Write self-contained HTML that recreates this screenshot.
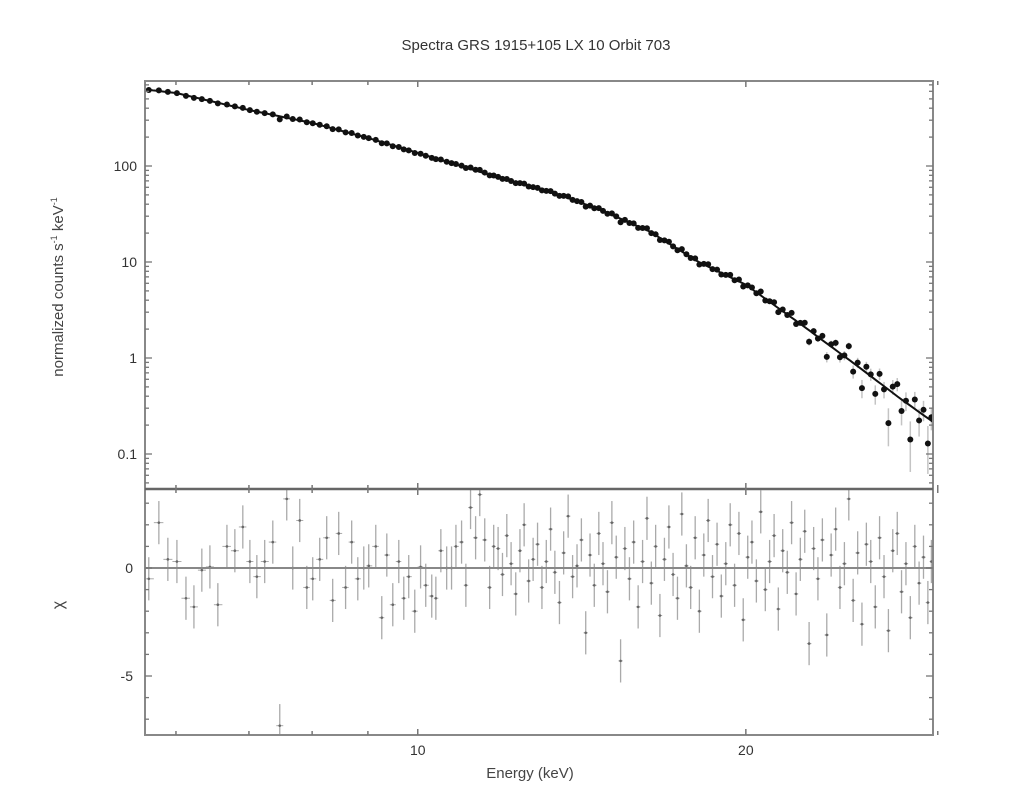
<!DOCTYPE html>
<html><head><meta charset="utf-8">
<style>
html,body{margin:0;padding:0;background:#fff;}
svg{display:block;font-family:"Liberation Sans",sans-serif;}
</style></head>
<body>
<svg id="chart" width="1023" height="786" viewBox="0 0 1023 786" xmlns="http://www.w3.org/2000/svg">
<rect x="0" y="0" width="1023" height="786" fill="#fff"/>
<text x="536" y="50" font-size="15" text-anchor="middle" fill="#333">Spectra GRS 1915+105 LX 10 Orbit 703</text>
<text transform="translate(63,287) rotate(-90)" font-size="15" text-anchor="middle" fill="#444">normalized counts s<tspan font-size="9" dy="-6">-1</tspan><tspan dy="6"> keV</tspan><tspan font-size="9" dy="-6">-1</tspan></text>
<text transform="translate(63,605) rotate(-90)" font-size="16" text-anchor="middle" fill="#444">χ</text>
<text x="530" y="778" font-size="15" text-anchor="middle" fill="#444">Energy (keV)</text>
<g id="g-top"></g>
<g id="g-bot"></g>
<g id="g-axes"></g>
</svg>
<script>
// ---- data ----
const modelEnergy = [5.6, 6, 7, 8, 9, 10, 11.9, 13.5, 14.7, 16.3, 18.1, 20, 22.4, 24.9, 27.7, 29.8];
const modelCounts = [630, 576, 383, 281, 196, 137, 75, 50, 35, 21, 10, 5.8, 2.3, 0.95, 0.38, 0.21];
const relErrEnergy = [5.6, 10, 15, 20, 23, 26, 29.8];
const relErrValue = [0.008, 0.012, 0.018, 0.03, 0.07, 0.15, 0.3];
const energies = [5.665,5.787,5.898,6.012,6.128,6.232,6.337,6.446,6.555,6.682,6.795,6.910,7.014,7.118,7.237,7.362,7.471,7.582,7.679,7.793,7.910,8.010,8.129,8.250,8.355,8.462,8.586,8.697,8.810,8.922,9.016,9.151,9.268,9.367,9.486,9.607,9.709,9.811,9.937,10.06,10.17,10.30,10.39,10.50,10.63,10.74,10.84,10.97,11.07,11.18,11.30,11.40,11.52,11.64,11.74,
11.85,11.96,12.07,12.18,12.30,12.41,12.52,12.64,12.76,12.88,13.00,13.12,13.24,13.36,13.49,13.61,13.74,13.87,14.00,14.13,14.26,14.39,14.52,14.66,14.79,14.93,15.07,15.21,15.35,15.49,15.64,15.78,15.93,16.08,16.23,16.38,16.53,16.68,16.84,17.00,17.15,17.31,17.47,17.64,17.80,17.97,18.13,18.30,18.47,18.64,18.82,18.99,19.17,19.35,19.53,19.71,19.89,20.08,20.26,20.45,20.64,20.84,21.03,21.23,21.42,21.62,21.83,22.03,22.24,22.44,22.65,22.86,23.08,23.29,23.51,23.73,23.95,24.18,24.40,24.63,24.86,25.09,25.33,25.56,25.80,26.04,26.29,26.53,26.78,27.03,27.28,27.54,27.79,28.05,28.31,28.58,28.84,29.11,29.38,29.60];
const residuals = [-0.5,2.1,0.4,0.3,-1.4,-1.8,-0.1,0.05,-1.7,1.0,0.8,1.9,0.3,-0.4,0.3,1.2,-7.3,3.2,0,2.2,-0.9,-0.5,0.4,1.4,-1.5,1.6,-0.9,1.2,-0.5,0,0.1,1.0,-2.3,0.6,-1.7,0.3,-1.4,-0.4,-2.0,0.05,-0.8,-1.3,-1.4,0.8,0,0,1.0,1.2,-0.8,2.8,1.4,3.4,1.3,-0.9,1.0,
0.9,-0.3,1.5,0.2,-1.2,0.8,2.0,-0.6,0.4,1.1,-0.9,0.3,1.8,-0.2,-1.6,0.7,2.4,-0.4,0.1,1.3,-3.0,0.6,-0.8,1.6,0.2,-1.1,2.1,0.5,-4.3,0.9,-0.5,1.2,-1.8,0.3,2.3,-0.7,1.0,-2.2,0.4,1.9,-0.3,-1.4,2.5,0.1,-0.9,1.4,-2.0,0.6,2.2,-0.4,1.1,-1.3,0.2,2.0,-0.8,1.6,-2.4,0.5,1.2,-0.6,2.6,-1.0,0.3,1.5,-1.9,0.8,-0.2,2.1,-1.2,0.4,1.7,-3.5,0.9,-0.5,1.3,-3.1,0.6,1.8,-0.9,0.2,3.2,-1.5,0.7,-2.6,1.1,0.3,-1.8,1.4,-0.4,-2.9,0.8,1.6,-1.1,0.2,-2.3,1.0,-0.7,0.5,-1.6,0.3];
const xTickValues = [6,7,8,9,10,20,30];
const xTickLabels = ["","","","","10","20",""];
const yTickValues = [100,10,1,0.1];
const yTickLabels = ["100","10","1","0.1"];
const rTickValues = [0,-5];
const rTickLabels = ["0","-5"];

// ---- geometry ----
const L=145,R=933,T=81,MID=489,B=735;
const xMinLog=Math.log10(5.62), xMaxLog=Math.log10(29.7);
function xs(e){return L+(Math.log10(e)-xMinLog)/(xMaxLog-xMinLog)*(R-L);}
function ys(v){return 166-(Math.log10(v)-2)*96;}
function yr(v){return 568-v*21.6;}
function interpLog(xa,ya,e){
  const le=Math.log10(e);
  for(let i=0;i<xa.length-1;i++){
    const a=Math.log10(xa[i]),b=Math.log10(xa[i+1]);
    if(le<=b||i===xa.length-2){const t=(le-a)/(b-a);return Math.pow(10,Math.log10(ya[i])+t*(Math.log10(ya[i+1])-Math.log10(ya[i])));}
  }
}
function interpLin(xa,ya,e){
  for(let i=0;i<xa.length-1;i++){
    if(e<=xa[i+1]||i===xa.length-2){const t=(e-xa[i])/(xa[i+1]-xa[i]);return ya[i]+t*(ya[i+1]-ya[i]);}
  }
}
const NS="http://www.w3.org/2000/svg";
function mk(tag,attrs,parent){const el=document.createElementNS(NS,tag);for(const k in attrs)el.setAttribute(k,attrs[k]);parent.appendChild(el);return el;}
const gTop=document.getElementById('g-top'),gBot=document.getElementById('g-bot'),gAx=document.getElementById('g-axes');

const defs=mk('defs',{},document.getElementById('chart'));
const c1=mk('clipPath',{id:'clipTop'},defs);mk('rect',{x:L,y:T,width:R-L,height:MID-T},c1);
const c2=mk('clipPath',{id:'clipBot'},defs);mk('rect',{x:L,y:MID,width:R-L,height:B-MID},c2);
gTop.setAttribute('clip-path','url(#clipTop)');
gBot.setAttribute('clip-path','url(#clipBot)');

const n=Math.min(energies.length,residuals.length);
for(let i=0;i<n;i++){
  const e=energies[i];
  const m=interpLog(modelEnergy,modelCounts,e);
  const rel=interpLin(relErrEnergy,relErrValue,e);
  const sig=m*rel;
  const val=Math.max(m+residuals[i]*sig,m*0.05);
  const x=xs(e);
  const eLo=i>0?(energies[i-1]+e)/2:e-0.05, eHi=i<n-1?(energies[i+1]+e)/2:e+0.05;
  const ylo=ys(Math.max(val-sig,1e-3)), yhi=ys(val+sig);
  const eb=mk('line',{x1:x,x2:x,y1:yhi,y2:ylo,stroke:'#c4c4c4','stroke-width':1.5},gTop);
  
  
  const pt=mk('circle',{cx:x,cy:ys(val),r:3,fill:'#111'},gTop);
  
  
  const rb=mk('line',{x1:x,x2:x,y1:yr(residuals[i]+1),y2:yr(residuals[i]-1),stroke:'#aaa','stroke-width':1.3},gBot);
  
  
  const rh=mk('line',{x1:xs(eLo),x2:xs(eHi),y1:yr(residuals[i]),y2:yr(residuals[i]),stroke:'#aaa','stroke-width':1},gBot);
  
  
  const rp=mk('circle',{cx:x,cy:yr(residuals[i]),r:1.3,fill:'#666'},gBot);
  
  
}
let d='';
for(let k=0;k<=200;k++){const e=Math.pow(10,xMinLog+(xMaxLog-xMinLog)*k/200);const m=interpLog(modelEnergy,modelCounts,e);d+=(k?'L':'M')+xs(e).toFixed(1)+' '+ys(m).toFixed(1);}
const ml=mk('path',{d:d,fill:'none',stroke:'#111','stroke-width':2},gTop);



const zl=mk('line',{x1:L,x2:R,y1:yr(0),y2:yr(0),stroke:'#888','stroke-width':2},gAx);


const fr=mk('rect',{x:L,y:T,width:R-L,height:B-T,fill:'none',stroke:'#888','stroke-width':2},gAx);


const dv=mk('line',{x1:L,x2:R,y1:MID,y2:MID,stroke:'#666','stroke-width':2.5},gAx);


for(let i=0;i<xTickValues.length;i++){
  const x=xs(xTickValues[i]);const len=xTickLabels[i]?6:4;
  [T,MID,B].forEach(y0=>{mk('line',{x1:x,x2:x,y1:y0-(y0===T?0:len),y2:y0+(y0===B?0:len),stroke:'#777','stroke-width':1.5},gAx);});
  if(xTickLabels[i]){
    const t=mk('text',{x:x,y:B+20,'font-size':14,'text-anchor':'middle',fill:'#333'},gAx);t.textContent=xTickLabels[i];
    
    
  }
}
for(let dec=-2;dec<=2;dec++){
  for(let k=1;k<=9;k++){
    const v=k*Math.pow(10,dec);const y=ys(v);if(y<T||y>MID)continue;
    const len=k===1?7:4;
    mk('line',{x1:L,x2:L+len,y1:y,y2:y,stroke:'#777','stroke-width':1.3},gAx);
    mk('line',{x1:R-len,x2:R,y1:y,y2:y,stroke:'#777','stroke-width':1.3},gAx);
  }
}
for(let i=0;i<yTickValues.length;i++){
  const t=mk('text',{x:L-8,y:ys(yTickValues[i])+5,'font-size':14,'text-anchor':'end',fill:'#333'},gAx);t.textContent=yTickLabels[i];
  
  
}
for(let v=-7;v<=3;v++){const y=yr(v);const len=(v%5===0)?7:4;
  mk('line',{x1:L,x2:L+len,y1:y,y2:y,stroke:'#777','stroke-width':1.3},gAx);
  mk('line',{x1:R-len,x2:R,y1:y,y2:y,stroke:'#777','stroke-width':1.3},gAx);}
for(let i=0;i<rTickValues.length;i++){
  const t=mk('text',{x:L-12,y:yr(rTickValues[i])+5,'font-size':14,'text-anchor':'end',fill:'#333'},gAx);t.textContent=rTickLabels[i];
  
  
}
</script>
</body></html>
